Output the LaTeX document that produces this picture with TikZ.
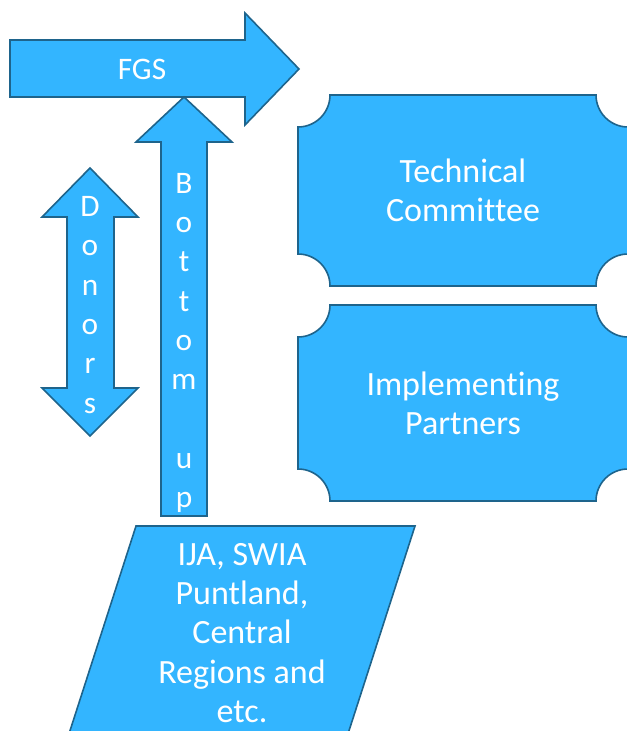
\documentclass[tikz,border=0pt]{standalone}
\usepackage{fontspec}
\setmainfont{Carlito}[Ligatures=NoCommon]
\usepackage{tikz}
\definecolor{tilefill}{RGB}{51,181,255}
\definecolor{tileline}{RGB}{30,100,140}
\tikzstyle{tile}=[draw=tileline,fill=tilefill,line width=1.2pt,line join=miter]
\tikzstyle{caption}=[text=white,align=center,inner sep=0,font=\fontsize{23.5}{29.5}\selectfont]
\tikzstyle{bigcaption}=[caption,font=\fontsize{25.5}{29.5}\selectfont]

\begin{document}
\begin{tikzpicture}[x=0.75pt,y=-0.75pt]
	\useasboundingbox (0,0) rectangle (627,731);
	\clip (0,0) rectangle (627,731);
	% FGS
	\draw[tile] (10,40) -- (245,40) -- (245,13) -- (299,69) -- (245,125) -- (245,97) -- (10,97) -- cycle;
	\node[caption] (fgs) at (142,69) {FGS};
	% bottom up
	\draw[tile] (161,516) -- (161,142) -- (136,142) -- (184,97) -- (232,142) -- (207,142) -- (207,516) -- cycle;
	\node[caption] (bottomup) at (184,343) {B\\o\\t\\t\\o\\m\\\mbox{}\\u\\p};
	% donors
	\draw[tile] (90,168) -- (138,217) -- (114,217) -- (114,388) -- (138,388) -- (90,436) -- (42,388) -- (67,388) -- (67,217) -- (42,217) -- cycle;
	\node[caption] (donors) at (90,305) {D\\o\\n\\o\\r\\s};
	% committee and partners
	\foreach \nm/\ya/\yb/\txt in {tc/95/286/{Technical\\Committee},ip/305/501/{Implementing\\Partners}}{
		\draw[tile] (330,\ya) -- (596,\ya) arc (180:90:32) -- (628,\yb-32) arc (270:180:32) -- (330,\yb) arc (0:-90:32) -- (298,\ya+32) arc (90:0:32) -- cycle;
		\node[bigcaption] (\nm) at (463,{(\ya+\yb)/2}) {\txt};
	}
	% regions
	\draw[tile] (136,526) -- (415,526) -- (346,740) -- (67,740) -- cycle;
	\node[bigcaption] (regions) at (242,633) {IJA, SWIA\\Puntland,\\Central\\Regions and\\etc.};
\end{tikzpicture}
\end{document}
